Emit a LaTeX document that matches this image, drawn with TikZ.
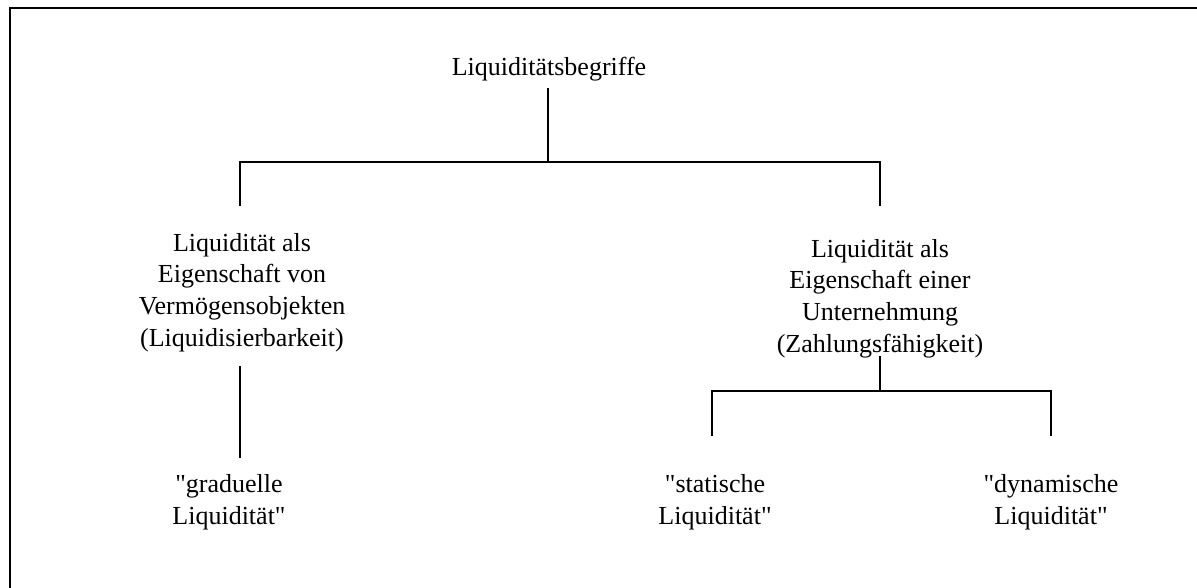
\documentclass[tikz,border=0pt]{standalone}
\usepackage{fontspec}
\setmainfont{Liberation Serif}
\begin{document}
\begin{tikzpicture}[x=1pt,y=-1pt,
  lbl/.style={inner sep=0pt, anchor=base, align=center, font=\fontsize{26}{31.6}\selectfont},
  conn/.style={line width=2pt, line cap=rect},
  frame/.style={line width=2.6pt}]
\useasboundingbox (0,0) rectangle (1197,587);
\clip (0,0) rectangle (1197,587);
\fill[white] (0,0) rectangle (1197,587);
% frame (cut off at right and bottom)
\coordinate (fBL) at (10,600);
\coordinate (fTL) at (10,8);
\coordinate (fTR) at (1210,8);
\draw[frame] (fBL) -- (fTL) -- (fTR);

% nodes (anchor base = baseline of last line)
\node[lbl] (top) at (549,75) {Liquiditätsbegriffe};
\node[lbl] (left) at (242,346) {Liquidität als\\Eigenschaft von\\Vermögensobjekten\\(Liquidisierbarkeit)};
\node[lbl] (right) at (880,352) {Liquidität als\\Eigenschaft einer\\Unternehmung\\(Zahlungsfähigkeit)};
\node[lbl] (grad) at (229,524) {\textquotedbl graduelle\\Liquidität\textquotedbl};
\node[lbl] (stat) at (715,524) {\textquotedbl statische\\Liquidität\textquotedbl};
\node[lbl] (dyn) at (1051,524) {\textquotedbl dynamische\\Liquidität\textquotedbl};

% connector coordinates
\coordinate (topS) at (548,89);
\coordinate (topB) at (548,162);
\coordinate (barL) at (240,162);
\coordinate (barR) at (880,162);
\coordinate (leftN) at (240,205);
\coordinate (rightN) at (880,205);
\coordinate (leftS) at (240,367);
\coordinate (gradN) at (240,457);
\coordinate (rightS) at (880,357);
\coordinate (rightB) at (880,391);
\coordinate (bar2L) at (712,391);
\coordinate (bar2R) at (1051,391);
\coordinate (statN) at (712,435);
\coordinate (dynN) at (1051,435);

% connectors
\draw[conn] (topS) -- (topB);
\draw[conn] (leftN) -- (barL) -- (barR) -- (rightN);
\draw[conn] (leftS) -- (gradN);
\draw[conn] (rightS) -- (rightB);
\draw[conn] (statN) -- (bar2L) -- (bar2R) -- (dynN);
\end{tikzpicture}
\end{document}
